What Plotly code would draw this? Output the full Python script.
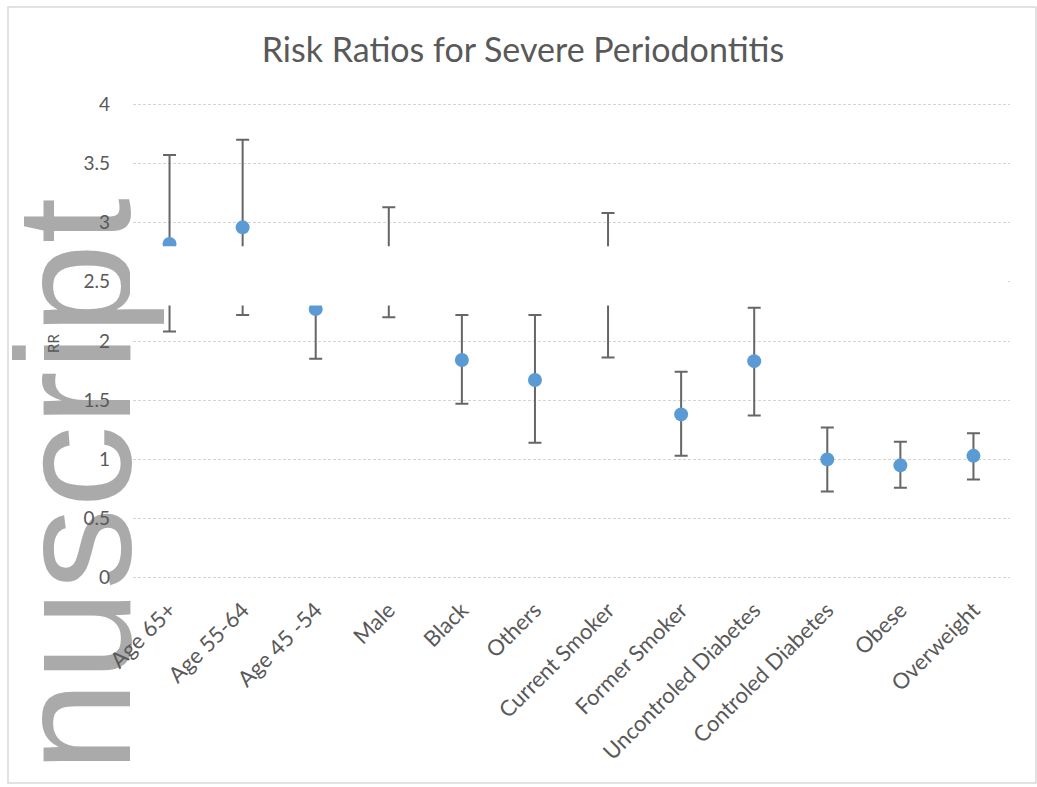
import plotly.graph_objects as go

categories = ["Age 65+", "Age 55-64", "Age 45 -54", "Male", "Black", "Others",
              "Current Smoker", "Former Smoker", "Uncontroled Diabetes",
              "Controled Diabetes", "Obese", "Overweight"]
rr = [2.82, 2.96, 2.27, 2.62, 1.84, 1.67, 2.40, 1.38, 1.83, 1.00, 0.95, 1.03]
ci_upper = [3.57, 3.70, 2.75, 3.13, 2.22, 2.22, 3.08, 1.74, 2.28, 1.27, 1.15, 1.22]
ci_lower = [2.08, 2.22, 1.85, 2.20, 1.47, 1.14, 1.86, 1.03, 1.37, 0.73, 0.76, 0.83]
y_ticks = [0, 0.5, 1, 1.5, 2, 2.5, 3, 3.5, 4]

err_plus = [u - v for u, v in zip(ci_upper, rr)]
err_minus = [v - l for v, l in zip(rr, ci_lower)]

W, H = 1037, 787
L, R, T, B = 133, 27, 103, 208
pw, ph = W - L - R, H - T - B
def px(x):
    return (x - L) / pw
def py(y):
    return (H - B - y) / ph

FONT = "Lato, Open Sans, sans-serif"
GREY = "#595959"

fig = go.Figure()
fig.add_trace(go.Scatter(
    x=categories, y=rr, mode="markers",
    marker=dict(color="#5B9BD5", size=14),
    error_y=dict(type="data", symmetric=False, array=err_plus, arrayminus=err_minus,
                 color="#666666", thickness=2, width=6.5),
    showlegend=False,
))

fig.update_layout(
    width=W, height=H,
    margin=dict(l=L, r=R, t=T, b=B, autoexpand=False),
    paper_bgcolor="white", plot_bgcolor="rgba(0,0,0,0)",
    font=dict(family=FONT, color=GREY),
    title=dict(text="Risk Ratios for Severe Periodontitis", x=(523) / W, xanchor="center",
               y=1 - 50 / H, yanchor="middle", yref="container",
               font=dict(family=FONT, size=34, color=GREY)),
    xaxis=dict(type="category", range=[-0.5, len(categories) - 0.5],
               showgrid=False, zeroline=False, showline=False, ticks="",
               tickangle=-45, tickfont=dict(size=22, color=GREY), ticklabelstandoff=13),
    yaxis=dict(range=[-0.01, 4.01], tickvals=y_ticks, ticktext=[f"{v:g}" for v in y_ticks],
               showgrid=True, gridcolor="#d4d4d4", griddash="3px,2px", gridwidth=1,
               zeroline=False, showline=False, ticks="",
               tickfont=dict(size=19, color=GREY), ticklabelstandoff=22),
)

# outer chart frame
fig.add_shape(type="rect", xref="paper", yref="paper",
              x0=px(8), x1=px(1036), y0=py(783), y1=py(7),
              line=dict(color="#d9d9d9", width=1.5), layer="below")

# watermark text fragment (behind the chart texts)
cx, cy = 57, 485
fig.add_shape(type="rect", xref="paper", yref="paper",
              x0=px(cx - 40), x1=px(cx + 40), y0=py(cy + 40), y1=py(cy - 40),
              line=dict(width=0), fillcolor="rgba(0,0,0,0)", layer="below",
              label=dict(text="nuscript", textangle=-90, textposition="middle center",
                         font=dict(family="Liberation Sans, Arial, sans-serif", size=164,
                                   color="#aaaaaa")))

# white band across the plot (as in the reference image)
fig.add_shape(type="rect", xref="paper", yref="y", x0=px(130), x1=px(1008),
              y0=2.30, y1=2.80, fillcolor="white", line=dict(width=0), layer="above")

# axis title "RR"
fig.add_annotation(text="RR", xref="paper", yref="paper", x=px(53), y=py(344),
                   xanchor="center", yanchor="middle", textangle=-90, showarrow=False,
                   font=dict(family=FONT, size=15, color=GREY))

fig.write_html("out.html", post_script="document.body.style.margin='0px';",
               config={"displayModeBar": False})
